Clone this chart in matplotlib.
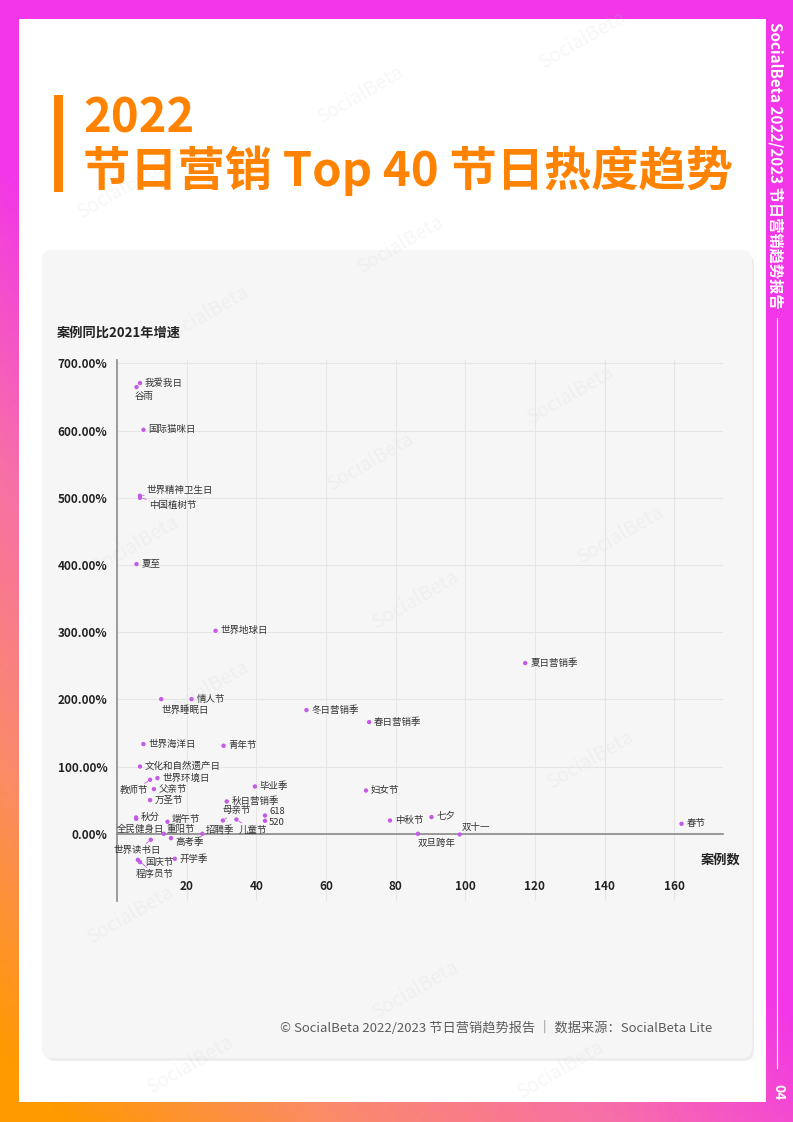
import numpy as np
import matplotlib.pyplot as plt
from matplotlib.patches import FancyBboxPatch, Rectangle
from matplotlib.colors import LinearSegmentedColormap

plt.rcParams['font.family'] = ['Noto Sans CJK SC', 'DejaVu Sans']

# data: number of cases (x) and growth vs 2021 in % (y)
names = ['我爱我日', '谷雨', '国际猫咪日', '世界精神卫生日', '中国植树节', '夏至',
         '世界地球日', '夏日营销季', '情人节', '世界睡眠日', '冬日营销季', '春日营销季',
         '世界海洋日', '青年节', '文化和自然遗产日', '世界环境日', '教师节', '父亲节',
         '毕业季', '妇女节', '万圣节', '秋日营销季', '618', '520', '母亲节', '儿童节',
         '秋分', '全民健身日', '端午节', '重阳节', '招聘季', '高考季', '中秋节', '七夕',
         '双旦跨年', '双十一', '春节', '世界读书日', '国庆节', '程序员节', '开学季']
cases = [6.6, 5.6, 7.6, 6.6, 6.6, 5.6,
         28.3, 117.2, 21.4, 12.7, 54.4, 72.4,
         7.6, 30.6, 6.6, 11.6, 9.5, 10.6,
         39.6, 71.5, 9.5, 31.5, 42.5, 42.5, 30.4, 34.3,
         5.5, 5.5, 14.5, 13.4, 24.5, 15.5, 78.4, 90.3,
         86.4, 98.4, 162.1, 9.7, 6.6, 6.0, 16.6]
growth = [670.7, 664.7, 601.2, 503.0, 500.0, 401.3,
          302.1, 254.0, 200.4, 200.4, 184.1, 166.2,
          133.5, 131.0, 100.1, 82.9, 80.4, 66.5,
          70.4, 64.4, 50.1, 48.1, 27.2, 19.3, 19.8, 21.3,
          24.3, 22.3, 17.9, 0.0, 0.0, -6.4, 19.8, 24.9,
          0.0, -1.0, 14.9, -8.9, -42.1, -38.7, -37.2]
xticks = [20, 40, 60, 80, 100, 120, 140, 160]
yticks = [0, 100, 200, 300, 400, 500, 600, 700]

# label placement (pixels: dx right, dy down, ha, connector line)
label_pos = {
    '谷雨': (-2, 9, 'left', False),
    '世界精神卫生日': (7, -5, 'left', True),
    '中国植树节': (9, 8, 'left', True),
    '世界睡眠日': (0, 11, 'left', False),
    '教师节': (-2, 11, 'right', True),
    '全民健身日': (4, 10, 'center', False),
    '重阳节': (3, -5, 'left', False),
    '高考季': (4, 4, 'left', False),
    '端午节': (4, -2, 'left', False),
    '招聘季': (3, -4, 'left', False),
    '母亲节': (0, -10, 'left', True),
    '儿童节': (2, 11, 'left', True),
    '618': (4, -4, 'left', False),
    '520': (4, 2, 'left', False),
    '世界读书日': (-14, 11, 'center', True),
    '程序员节': (-2, 15, 'left', True),
    '双旦跨年': (0, 9, 'left', False),
    '双十一': (2, -7, 'left', False),
}

W, H = 793, 1122
fig = plt.figure(figsize=(W / 100, H / 100), dpi=100)

# page background with gradient frame
bg = fig.add_axes([0, 0, 1, 1])
bg.set_xlim(0, W)
bg.set_ylim(H, 0)
bg.axis('off')
yy, xx = np.mgrid[0:1:200j, 0:1:200j]
t = np.clip(yy * 1.25 - xx * 0.95 - 0.18, 0, 1)
cmap = LinearSegmentedColormap.from_list('frame', ['#f236e8', '#f76fa8', '#fb8a6a', '#ff9a00'])
bg.imshow(t, cmap=cmap, extent=[0, W, H, 0], aspect='auto', zorder=0)
bg.add_patch(Rectangle((19, 19), 747, 1083, facecolor='white', edgecolor='none', zorder=1))

# title
orange = '#ff8200'
bg.add_patch(Rectangle((54, 95), 9, 97, facecolor=orange, edgecolor='none', zorder=2))
bg.text(83, 132, '2022', color=orange, fontsize=34, fontweight='bold', va='baseline', zorder=3)
bg.text(83, 186, '节日营销 Top 40 节日热度趋势', color=orange, fontsize=34,
        fontweight='bold', va='baseline', zorder=3)

# right strip
bg.text(776, 22, 'SocialBeta 2022/2023 节日营销趋势报告', color='white', fontsize=11,
        fontweight='bold', rotation=-90, ha='center', va='top', zorder=3)
bg.plot([777, 777], [318, 1068], color='white', lw=0.8, zorder=3)
bg.text(778, 1092, '04', color='white', fontsize=10, fontweight='bold', rotation=-90,
        ha='center', va='center', zorder=3)

# watermarks
for wx, wy in [(582, 40), (360, 95), (120, 190), (400, 245), (205, 315), (570, 395),
               (370, 462), (135, 545), (620, 535), (415, 600), (205, 690), (590, 760),
               (130, 915), (415, 990), (190, 1065), (560, 1070)]:
    bg.text(wx, wy, 'SocialBeta', color='#c8c8c8', alpha=0.14, fontsize=14,
            rotation=30, ha='center', va='center', zorder=2.5)

# panel
bg.add_patch(FancyBboxPatch((45, 254), 709, 807, boxstyle='round,pad=0,rounding_size=10',
                            facecolor='#e2e2e2', edgecolor='none', alpha=0.6, zorder=1.5))
bg.add_patch(FancyBboxPatch((42, 250), 710, 808, boxstyle='round,pad=0,rounding_size=10',
                            facecolor='#f6f6f6', edgecolor='none', zorder=2))
bg.text(712, 1028, '© SocialBeta 2022/2023 节日营销趋势报告 ｜ 数据来源：SocialBeta Lite',
        color='#5c5c5c', fontsize=9.5, fontweight='medium', ha='right', va='center', zorder=3)

# chart
ax = fig.add_axes([117 / W, 1 - 901 / H, 606 / W, 541 / H])
ax.set_facecolor('none')
ax.set_xlim(0, 174)
ax.set_ylim(-100, 705)
for s in ['top', 'right']:
    ax.spines[s].set_visible(False)
ax.spines['bottom'].set_position(('data', 0))
for s in ['left', 'bottom']:
    ax.spines[s].set_color('#8a8a8a')
    ax.spines[s].set_linewidth(1.2)
ax.set_xticks(xticks)
ax.set_yticks(yticks)
ax.set_yticklabels([f'{v:.2f}%' for v in yticks])
ax.tick_params(length=0, labelsize=8.5, labelcolor='#222222')
ax.tick_params(axis='x', pad=33)
ax.tick_params(axis='y', pad=7)
for lab in ax.get_xticklabels() + ax.get_yticklabels():
    lab.set_fontweight('bold')
ax.grid(True, color='#e6e6e6', lw=0.8)
ax.set_axisbelow(True)

dot_color = '#c35be6'
ax.scatter(cases, growth, s=10, color=dot_color, edgecolors='none', zorder=3)
for n, xv, yv in zip(names, cases, growth):
    dx, dy, ha, line = label_pos.get(n, (5, 0, 'left', False))
    arrow = dict(arrowstyle='-', color=dot_color, lw=0.6, shrinkA=0, shrinkB=2) if line else None
    ax.annotate(n, (xv, yv), xytext=(dx * 0.72, -dy * 0.72), textcoords='offset points',
                ha=ha, va='center', fontsize=6.8, color='#333333', arrowprops=arrow, zorder=4)

fig.text(57 / W, 1 - 333 / H, '案例同比2021年增速', fontsize=9.5, fontweight='bold',
         color='#222222', ha='left', va='center')
fig.text(740 / W, 1 - 860 / H, '案例数', fontsize=9.5, fontweight='bold',
         color='#222222', ha='right', va='center')

fig.savefig('out.png', dpi=100)
